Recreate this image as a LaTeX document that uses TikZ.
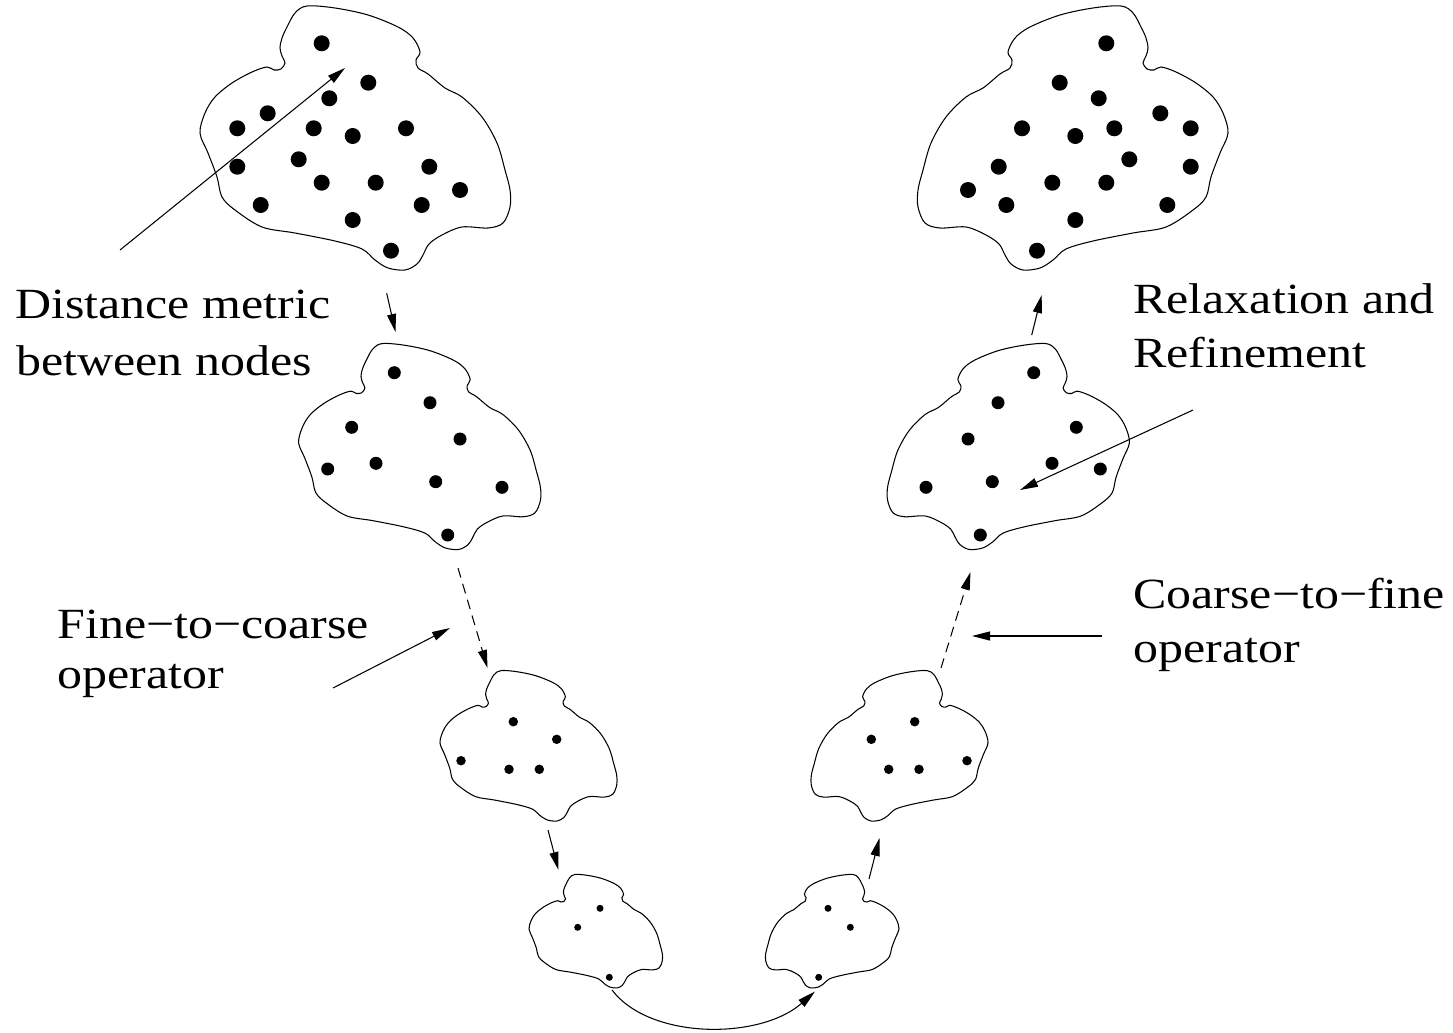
\documentclass[tikz,border=0pt]{standalone}
\usepackage{fontspec}
\setmainfont{Liberation Serif}
\usetikzlibrary{arrows.meta}
\tikzset{
  blobline/.style={line width=0.6pt},
  arr/.style={line width=0.6pt,-{Triangle[length=3.6mm,width=1.8mm]}},
  dsh/.style={arr,dash pattern=on 2mm off 1.3mm},
  lbl/.style={anchor=base west,inner sep=0pt,xscale=1.16,font=\fontsize{24.5}{30}\selectfont}
}
\newcommand\blobdraw[3]{%
  \begin{scope}[shift={(#1,#2)},scale=#3]
  \draw[blobline] plot[smooth cycle,tension=0.55] coordinates{
    (0,128) (5,108) (15,92) (32,78) (52,67) (67,62) (74,65) (81,64) (85,58) (82,51)
    (80,43) (82,33) (87,22) (95,8) (107,1) (135,3) (168,10) (198,22) (213,33) (220,47)
    (216,55) (218,63) (228,69) (245,83) (262,92) (282,112) (297,138) (305,165) (310,185)
    (310,202) (303,218) (288,223) (262,222) (242,230) (229,239) (223,250) (217,259)
    (205,265) (188,263) (175,255) (162,244) (135,236) (95,228) (62,222) (35,205)
    (22,192) (17,172) (8,148)};
  \end{scope}}
\newcommand\halfside{%
  \blobdraw{200}{5}{1}
  \blobdraw{298.6}{342.8}{0.78}
  \blobdraw{440}{670}{0.57}
  \blobdraw{529}{874}{0.43}
  \foreach \p in {(321.7,43.3),(368.3,82.7),(329.3,98.3),(267.7,113.3),(237.3,128.3),
    (313.7,128.3),(352.7,136),(406,128.3),(237.3,166.7),(298.7,159.3),(429.3,166.7),
    (321.7,182.7),(375.7,182.7),(460,190),(260.7,205),(421.7,205),(352.7,220),(391,250.7)}
    {\fill \p circle[radius=1.6mm];}
  \foreach \p in {(394.3,372.7),(430,402.7),(351.7,427.3),(460,439),(327.7,469),
    (376,463.3),(435.7,481.7),(502,487.3),(447.7,535)}
    {\fill \p circle[radius=1.3mm];}
  \foreach \p in {(513.3,721.7),(556.7,739.3),(461,760.7),(509,769.3),(539.3,769.3)}
    {\fill \p circle[radius=0.95mm];}
  \foreach \p in {(600,908.3),(577.7,927.3),(609.3,977.3)}
    {\fill \p circle[radius=0.7mm];}
}
\begin{document}
\begin{tikzpicture}[x=0.2mm,y=-0.2mm]
\path[use as bounding box] (0,0) rectangle (1453,1032);
\begin{scope}
  \halfside
\end{scope}
\begin{scope}[shift={(1428,0)},xscale=-1]
  \halfside
\end{scope}
% labels
\node[lbl] (dm1) at (15,318) {Distance metric};
\node[lbl] (dm2) at (16,375) {between nodes};
\node[lbl] (fc1) at (57,638) {Fine−to−coarse};
\node[lbl] (fc2) at (57,688) {operator};
\node[lbl] (rr1) at (1133,313) {Relaxation and};
\node[lbl] (rr2) at (1133,367) {Refinement};
\node[lbl] (cf1) at (1133,608) {Coarse−to−fine};
\node[lbl] (cf2) at (1133,662) {operator};
% connector end points
\coordinate (l1s) at (386.7,293.3);  \coordinate (l1e) at (395.5,332);
\coordinate (l2s) at (458,568);      \coordinate (l2e) at (487.5,668);
\coordinate (l3s) at (548,830);      \coordinate (l3e) at (558.5,870);
\coordinate (bs)  at (612,990);      \coordinate (be)  at (815,991.5);
\coordinate (r3s) at (869,879);      \coordinate (r3e) at (879.5,838);
\coordinate (r2s) at (941,668);      \coordinate (r2e) at (970.5,572);
\coordinate (r1s) at (1031.7,335);   \coordinate (r1e) at (1041.7,295);
\coordinate (pdm) at (120,250);      \coordinate (tdm) at (345,68);
\coordinate (pfc) at (333,688);      \coordinate (tfc) at (450,628);
\coordinate (prr) at (1193,410);     \coordinate (trr) at (1020,490);
\coordinate (pcf) at (1102,636);     \coordinate (tcf) at (972,636);
\draw[arr] (l1s) -- (l1e);
\draw[dsh] (l2s) -- (l2e);
\draw[arr] (l3s) -- (l3e);
\draw[arr] (bs) .. controls (650,1040) and (760,1040) .. (be);
\draw[arr] (r3s) -- (r3e);
\draw[dsh] (r2s) -- (r2e);
\draw[arr] (r1s) -- (r1e);
\draw[arr] (pdm) -- (tdm);
\draw[arr] (pfc) -- (tfc);
\draw[arr] (prr) -- (trr);
\draw[arr] (pcf) -- (tcf);
\end{tikzpicture}
\end{document}
